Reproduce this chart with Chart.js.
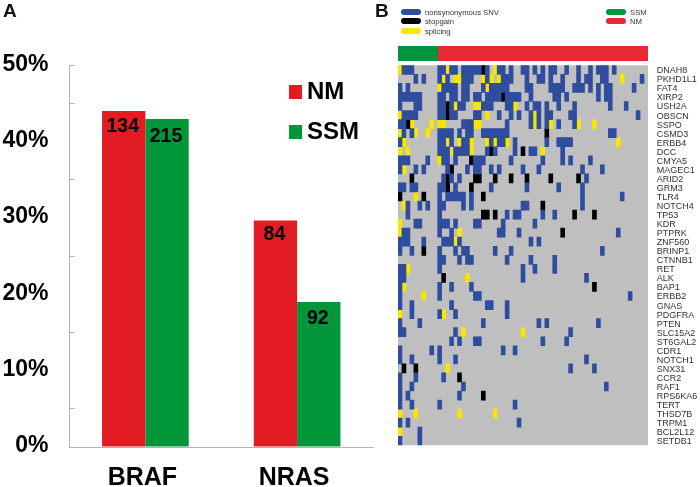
<!DOCTYPE html>
<html>
<head>
<meta charset="utf-8">
<script src="https://cdn.jsdelivr.net/npm/chart.js@4"></script>
<style>
html,body{margin:0;padding:0;background:#fff;width:700px;height:487px;overflow:hidden}
canvas{position:absolute;display:block}
</style>
</head>
<body>
<canvas id="a" width="390" height="487" style="left:0;top:0"></canvas>
<canvas id="b" width="310" height="487" style="left:390px;top:0"></canvas>
<canvas id="c" width="250" height="15" style="left:398px;top:46px"></canvas>
<script>
// Panel A
const mutGenes = ["BRAF", "NRAS"];
const nmPercent = [44.05, 29.7];
const ssmPercent = [43.0, 19.0];
const nmCounts = [134, 84];
const ssmCounts = [215, 92];

// Panel B
const sampleCount = 63;
const ssmSamples = 10;
const genes = ["DNAH8","PKHD1L1","FAT4","XIRP2","USH2A","OBSCN","SSPO","CSMD3","ERBB4","DCC","CMYA5","MAGEC1","ARID2","GRM3","TLR4","NOTCH4","TP53","KDR","PTPRK","ZNF560","BRINP1","CTNNB1","RET","ALK","BAP1","ERBB2","GNAS","PDGFRA","PTEN","SLC15A2","ST6GAL2","CDR1","NOTCH1","SNX31","CCR2","RAF1","RPS6KA6","TERT","THSD7B","TRPM1","BCL2L12","SETDB1"];
const nonsynonymous = [
[1,2,3,10,11,13,14,16,17,18,19,20,22,25,26,28,31,32,34,36,38,39,42,45,48,50,51,52,54],
[4,6,10,12,16,17,18,22,26,27,28,32,35,36,38,41,45,47,48,51,52,61],
[0,2,11,12,13,14,16,17,21,23,24,25,26,27,32,33,38,39,40,41,44,45,46,48,50,52,53,59],
[0,1,2,3,4,5,10,11,13,14,16,17,19,20,22,23,24,25,27,28,29,30,33,39,40,42,50,52,53],
[0,4,5,10,11,13,15,16,21,22,23,27,28,32,34,35,37,40,44,53,57],
[1,2,3,4,10,11,13,14,19,20,25,28,30,33,35,37,38,43,44,60],
[0,1,16,17,18,27,33,35,37,40,44],
[1,3,10,11,12,13,15,17,18,21,22,23,24,25,26,27,53,54],
[0,10,11,13,16,17,23,25,26,29,37,40,41,42,43],
[10,11,12,14,15,16,17,22,24,29,33,34,41],
[0,1,2,7,11,12,14,19,20,21,28,36,41,43,48],
[0,4,6,12,17,19,20,23,25,31,35,46,51],
[11,13,15,47],
[0,1,3,4,10,11,14,23,32,40,46],
[10,12,13,14,15,16,18,46,56],
[2,5,7,10,11,16,18,31,32,46],
[2,10,27,29,30,36,39],
[4,5,10,11,12,14,19,20,26,34],
[1,2,10,13,25,26,30,55],
[0,1,2,6,11,12,13,15,33,35],
[0,3,10,14,16,17,24,28,51],
[10,11,15,17,18,27,33,39],
[0,1,10,31,34,39],
[0,1,31,47],
[0,10,13,18],
[0,10,19,20,58],
[0,3,13,22,23,27],
[3,10,14,27],
[0,5,21,35,37,50],
[0,1,14,43],
[13,15,19,20,36,42],
[0,8,10,26,29],
[0,3,10,14,47],
[43,49],
[0,4,11],
[0,3,16,52],
[0,2,15],
[0,3,10,29],
[],
[0,2,30],
[5],
[0,5]
];
const stopgain = [
[21],[],[],[26],[12],[12],[2],[37],[],[23,31],
[18],[13],[3,12,19,20,24,28,32,38,45],[12,18],[0,6,21],[36],[21,22,24,44,49],[],[41],[],
[6],[],[],[11],[49],[],[],[],[],[],
[],[],[],[1,4],[15],[],[21],[],[],[],[],[]
];
const splicing = [
[0,12,24],[11,14,15,21,23,25,56],[10,22],[],[14,19,20,29],[0,22,34],[3,8,10,11,19,20,34,38,45,49],[0,4,7],[1,12,15,18,22,24,27,55],[0,2,13,18,36],
[10],[1],[],[],[4],[1],[],[0],[0,15],[14],
[],[],[2],[17],[1],[6],[],[0,11],[],[16,31],
[],[],[],[12],[],[],[],[],[0,4,15,24],[],[0],[]
];
const mutationTypes = ["nonsynonymous SNV", "stopgain", "splicing"];
const sampleGroups = ["SSM", "NM"];

const RED = "#e31c23", GREEN = "#009639", AXIS = "#b4b4b4";
const CELL_BLUE = "#2f4d9f", CELL_YELLOW = "#f8e600", CELL_BLACK = "#000000", CELL_GRAY = "#bfbfbf";
const ANNOT_RED = "#e52a32", ANNOT_GREEN = "#009640";
const ARIAL = "'Liberation Sans', Arial, sans-serif";

function cells(rows) {
  const out = [];
  rows.forEach(function (cols, r) {
    cols.forEach(function (c) { out.push({ x: [c, c + 1], y: genes[r] }); });
  });
  return out;
}

const panelAOverlay = {
  id: "panelAOverlay",
  afterDatasetsDraw(chart) {
    const ctx = chart.ctx;
    ctx.save();
    ctx.fillStyle = "#000";
    ctx.textAlign = "center";
    ctx.textBaseline = "middle";
    ctx.font = "bold 19.5px " + ARIAL;
    const offsets = [[16, 14], [18, 17]];
    [nmCounts, ssmCounts].forEach(function (counts, d) {
      chart.getDatasetMeta(d).data.forEach(function (bar, i) {
        ctx.fillText(String(counts[i]), bar.x - 1, bar.y + offsets[d][i]);
      });
    });
    // legend
    const lx = 289;
    [["NM", RED, 92], ["SSM", GREEN, 132]].forEach(function (it) {
      ctx.fillStyle = it[1];
      ctx.fillRect(lx, it[2] - 7, 13, 14);
      ctx.fillStyle = "#000";
      ctx.textAlign = "left";
      ctx.font = "bold 24px " + ARIAL;
      ctx.fillText(it[0], 307, it[2]);
    });
    // panel letters
    ctx.font = "bold 19px " + ARIAL;
    ctx.fillStyle = "#111";
    ctx.fillText("A", 3, 11.5);
    ctx.fillText("B", 375, 11.5);
    ctx.restore();
  }
};

new Chart(document.getElementById("a"), {
  type: "bar",
  plugins: [panelAOverlay],
  data: {
    labels: mutGenes,
    datasets: [
      { label: "NM", data: nmPercent, backgroundColor: RED },
      { label: "SSM", data: ssmPercent, backgroundColor: GREEN }
    ]
  },
  options: {
    responsive: false,
    animation: false,
    layout: { padding: { top: 65.5, right: 17, left: 0, bottom: 0 } },
    plugins: { legend: { display: false }, tooltip: { enabled: false } },
    datasets: { bar: { barPercentage: 1, categoryPercentage: 0.571 } },
    scales: {
      x: {
        afterFit(s) { s.height = 40; },
        border: { color: AXIS, width: 1 },
        grid: { display: false },
        ticks: { color: "#000", font: { family: ARIAL, size: 25, weight: "bold" }, padding: 8, labelOffset: -3, maxRotation: 0 }
      },
      y: {
        min: 0, max: 50,
        afterFit(s) { s.width = 69.5; },
        border: { color: AXIS, width: 1 },
        grid: {
          drawOnChartArea: false,
          tickLength: -5,
          tickColor(c) {
            const v = c.tick ? c.tick.value : 0;
            return (v % 10 === 5 || v === 50) ? AXIS : "rgba(0,0,0,0)";
          }
        },
        ticks: {
          stepSize: 5, autoSkip: false, color: "#000", padding: 26, labelOffset: -1,
          font: { family: ARIAL, size: 23, weight: "bold" },
          callback(v) { return v % 10 === 0 ? v + "%" : ""; }
        }
      }
    }
  }
});

const heatOverlay = {
  id: "heatOverlay",
  beforeDatasetsDraw(chart) {
    const a = chart.chartArea, ctx = chart.ctx;
    ctx.save();
    ctx.fillStyle = CELL_GRAY;
    ctx.fillRect(a.left, a.top, a.right - a.left, a.bottom - a.top);
    ctx.restore();
  },
  afterDraw(chart) {
    const ctx = chart.ctx;
    ctx.save();
    ctx.textBaseline = "middle";
    ctx.textAlign = "left";
    ctx.font = "7.7px " + ARIAL;
    function pill(x, y, color) {
      ctx.fillStyle = color;
      ctx.beginPath();
      ctx.roundRect(x, y - 3, 20, 6, 3);
      ctx.fill();
    }
    [CELL_BLUE, CELL_BLACK, CELL_YELLOW].forEach(function (col, i) {
      const y = [12, 21, 31][i];
      pill(11, y, col);
      ctx.fillStyle = "#333";
      ctx.fillText(mutationTypes[i], 35, y + 0.5);
    });
    [ANNOT_GREEN, ANNOT_RED].forEach(function (col, i) {
      const y = [12, 21][i];
      pill(216, y, col);
      ctx.fillStyle = "#333";
      ctx.fillText(sampleGroups[i], 240, y + 0.5);
    });
    ctx.restore();
  }
};

new Chart(document.getElementById("b"), {
  type: "bar",
  plugins: [heatOverlay],
  data: {
    labels: genes,
    datasets: [
      { label: mutationTypes[0], data: cells(nonsynonymous), backgroundColor: CELL_BLUE },
      { label: mutationTypes[1], data: cells(stopgain), backgroundColor: CELL_BLACK },
      { label: mutationTypes[2], data: cells(splicing), backgroundColor: CELL_YELLOW }
    ]
  },
  options: {
    indexAxis: "y",
    responsive: false,
    animation: false,
    layout: { padding: { top: 65.3, left: 8, right: 0, bottom: 41.7 } },
    plugins: { legend: { display: false }, tooltip: { enabled: false } },
    datasets: { bar: { barPercentage: 1, categoryPercentage: 1, grouped: false } },
    scales: {
      x: { type: "linear", min: 0, max: sampleCount, display: false },
      y: {
        type: "category",
        position: "right",
        afterFit(s) { s.width = 52; },
        border: { display: false },
        grid: { display: false, drawTicks: false },
        ticks: { autoSkip: false, padding: 8.7, labelOffset: 1, color: "#333", font: { family: ARIAL, size: 9 } }
      }
    }
  }
});

new Chart(document.getElementById("c"), {
  type: "bar",
  data: {
    labels: ["group"],
    datasets: [
      { label: sampleGroups[0], data: [[0, ssmSamples]], backgroundColor: ANNOT_GREEN },
      { label: sampleGroups[1], data: [[ssmSamples, sampleCount]], backgroundColor: ANNOT_RED }
    ]
  },
  options: {
    indexAxis: "y",
    responsive: false,
    animation: false,
    plugins: { legend: { display: false }, tooltip: { enabled: false } },
    datasets: { bar: { barPercentage: 1, categoryPercentage: 1, grouped: false } },
    scales: {
      x: { type: "linear", min: 0, max: sampleCount, display: false },
      y: { display: false }
    }
  }
});
</script>
</body>
</html>
